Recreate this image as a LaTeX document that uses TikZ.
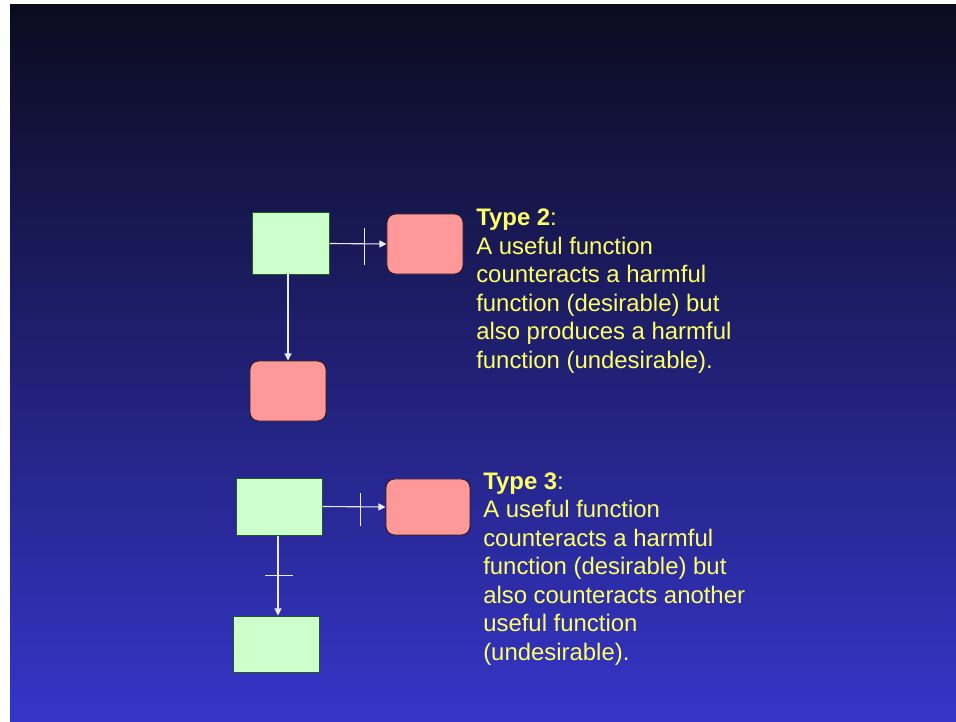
\documentclass[tikz,border=0pt]{standalone}
\usepackage{fontspec}
\setmainfont{Liberation Sans}
\usepackage{tikz}
\usetikzlibrary{arrows.meta,calc}
\definecolor{SlideTop}{HTML}{0B0B1F}
\definecolor{SlideBottom}{HTML}{3535C9}
\definecolor{UsefulFill}{HTML}{CCFFCC}
\definecolor{UsefulLine}{HTML}{1E5A1E}
\definecolor{HarmFill}{HTML}{FF9999}
\definecolor{HarmLine}{HTML}{2A1A2A}
\definecolor{NoteYellow}{HTML}{FFFF66}
\tikzset{
  funcarrow/.style={-{Triangle[length=5pt,width=5pt]}, line width=0.8pt, draw=white!92!blue},
  blockmark/.style={-, line width=0.8pt, draw=white!92!blue},
  notetext/.style={font=\fontsize{17}{20.2}\selectfont, text=NoteYellow, align=left, inner sep=0pt, anchor=base west}
}

\begin{document}
\begin{tikzpicture}[
  x=0.025cm, y=-0.025cm,
  useful/.style={draw=UsefulLine, fill=UsefulFill, line width=0.7pt, inner sep=0pt},
  harmful/.style={draw=HarmLine, fill=HarmFill, line width=0.7pt, rounded corners=6pt, inner sep=0pt}
]
\useasboundingbox (0,0) rectangle (956,722);
\fill[white] (0,0) rectangle (956,722);
\shade[top color=SlideTop, bottom color=SlideBottom] (10,5) rectangle (956,722);

% Type 2
\node[useful, minimum width=1.9cm, minimum height=1.525cm] at (291,243.5) (use2) {};
\node[harmful, minimum width=1.9cm, minimum height=1.5cm] at (425,244) (harmA2) {};
\node[harmful, minimum width=1.9cm, minimum height=1.5cm] at (288,391) (harmB2) {};

\draw[funcarrow] (use2.east) -- coordinate[pos=0.62] (cut2) (harmA2.west);
\draw[blockmark] ($(cut2)+(0,-16)$) -- ($(cut2)+(0,21)$);
\draw[funcarrow] (use2.south -| harmB2.north) -- (harmB2.north);

% anchored on the last line
\node[notetext] at (476,368) (note2) {\textbf{Type 2}:\\A useful function\\counteracts a harmful\\function (desirable) but\\also produces a harmful\\function (undesirable).};

% Type 3
\node[useful, minimum width=2.125cm, minimum height=1.425cm] at (279.5,506.5) (use3) {};
\node[harmful, minimum width=2.1cm, minimum height=1.4cm] at (428,507) (harm3) {};
\node[useful, minimum width=2.125cm, minimum height=1.4cm] at (276.5,644) (useB3) {};

\draw[funcarrow] (use3.east) -- coordinate[pos=0.61] (cutA3) (harm3.west);
\draw[blockmark] ($(cutA3)+(0,-14)$) -- ($(cutA3)+(0,19)$);
\draw[funcarrow] (use3.south -| 278,0) -- coordinate[pos=0.5] (cutB3) (useB3.north -| 278,0);
\draw[blockmark] ($(cutB3)+(-13,0)$) -- ($(cutB3)+(15,0)$);

\node[notetext] at (483,660) (note3) {\textbf{Type 3}:\\A useful function\\counteracts a harmful\\function (desirable) but\\also counteracts another\\useful function\\(undesirable).};
\end{tikzpicture}
\end{document}
